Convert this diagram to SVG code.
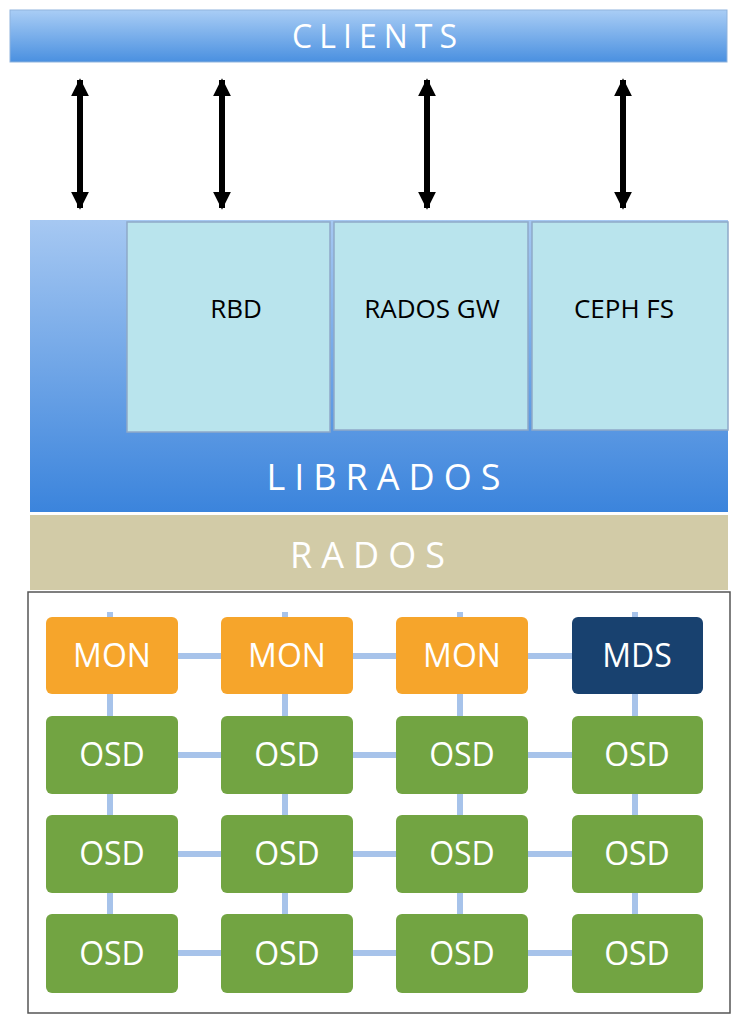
<svg xmlns="http://www.w3.org/2000/svg" width="752" height="1030" viewBox="0 0 752 1030">
<defs>
<linearGradient id="gc" x1="0" y1="0" x2="0" y2="1"><stop offset="0" stop-color="#a9cdf5"/><stop offset="1" stop-color="#4a90e0"/></linearGradient>
<linearGradient id="gl" x1="0" y1="0" x2="0" y2="1"><stop offset="0" stop-color="#a6c8f2"/><stop offset="1" stop-color="#3b84dc"/></linearGradient>
<marker id="ah" viewBox="0 0 10 10" refX="9" refY="5" markerWidth="3" markerHeight="3" orient="auto-start-reverse"><path d="M0,0 L10,5 L0,10 z" fill="#000"/></marker>
<style>
.t{font-family:"Open Sans","Liberation Sans",sans-serif;fill:#fff;text-anchor:middle}
.b{font-family:"Open Sans","Liberation Sans",sans-serif;fill:#000;text-anchor:middle;font-size:26px}
.box{fill:#b9e4ed;stroke:#8fa9c8;stroke-width:1.5}
.mon{fill:#f6a52b}.osd{fill:#72a442}.mds{fill:#18416f}
.n{font-size:32px}
.c line{stroke:#a7c3ea;stroke-width:6}
.c line.ar{stroke:#000;stroke-width:6;marker-start:url(#ah);marker-end:url(#ah)}
</style>
</defs>
<g id="clients"><rect x="10" y="10" width="717" height="52" fill="url(#gc)" stroke="#8fb3dd"/><text class="t" x="378" y="48" font-size="32" letter-spacing="7">CLIENTS</text></g>
<g id="librados"><rect x="30" y="220" width="698" height="292" fill="url(#gl)"/><text class="t" x="388" y="490" font-size="36" letter-spacing="9">LIBRADOS</text></g>
<g id="rbd"><rect class="box" x="127" y="222" width="203" height="210"/><text class="b" x="236" y="318">RBD</text></g>
<g id="radosgw"><rect class="box" x="334" y="222" width="194" height="208"/><text class="b" x="432" y="318">RADOS GW</text></g>
<g id="cephfs"><rect class="box" x="532" y="222" width="196" height="208"/><text class="b" x="624" y="318">CEPH FS</text></g>
<g id="rados"><rect x="30" y="515" width="698" height="75" fill="#d2cba7"/><text class="t" x="372" y="568" font-size="36" letter-spacing="9">RADOS</text></g>
<g id="cluster"><rect x="28" y="592" width="702" height="421" fill="#fff" stroke="#555" stroke-width="1.5"/></g>
<g class="c" id="connectors">
<line class="ar" x1="80" y1="80" x2="80" y2="208"/>
<line class="ar" x1="222" y1="80" x2="222" y2="208"/>
<line class="ar" x1="427" y1="80" x2="427" y2="208"/>
<line class="ar" x1="623" y1="80" x2="623" y2="208"/>
<line x1="110" y1="612" x2="110" y2="960"/><line x1="285" y1="612" x2="285" y2="960"/><line x1="460" y1="612" x2="460" y2="960"/><line x1="635" y1="612" x2="635" y2="960"/>
<line x1="112" y1="656" x2="637" y2="656"/><line x1="112" y1="755" x2="637" y2="755"/><line x1="112" y1="854" x2="637" y2="854"/><line x1="112" y1="953" x2="637" y2="953"/>
</g>
<g id="mon1"><rect class="mon" x="46" y="617" width="132" height="77" rx="6"/><text class="t n" x="112" y="667">MON</text></g>
<g id="mon2"><rect class="mon" x="221" y="617" width="132" height="77" rx="6"/><text class="t n" x="287" y="667">MON</text></g>
<g id="mon3"><rect class="mon" x="396" y="617" width="132" height="77" rx="6"/><text class="t n" x="462" y="667">MON</text></g>
<g id="mds"><rect class="mds" x="572" y="617" width="131" height="77" rx="6"/><text class="t n" x="637" y="667">MDS</text></g>
<g id="osd11"><rect class="osd" x="46" y="716" width="132" height="78" rx="6"/><text class="t n" x="112" y="766">OSD</text></g>
<g id="osd12"><rect class="osd" x="221" y="716" width="132" height="78" rx="6"/><text class="t n" x="287" y="766">OSD</text></g>
<g id="osd13"><rect class="osd" x="396" y="716" width="132" height="78" rx="6"/><text class="t n" x="462" y="766">OSD</text></g>
<g id="osd14"><rect class="osd" x="572" y="716" width="131" height="78" rx="6"/><text class="t n" x="637" y="766">OSD</text></g>
<g id="osd21"><rect class="osd" x="46" y="815" width="132" height="78" rx="6"/><text class="t n" x="112" y="865">OSD</text></g>
<g id="osd22"><rect class="osd" x="221" y="815" width="132" height="78" rx="6"/><text class="t n" x="287" y="865">OSD</text></g>
<g id="osd23"><rect class="osd" x="396" y="815" width="132" height="78" rx="6"/><text class="t n" x="462" y="865">OSD</text></g>
<g id="osd24"><rect class="osd" x="572" y="815" width="131" height="78" rx="6"/><text class="t n" x="637" y="865">OSD</text></g>
<g id="osd31"><rect class="osd" x="46" y="914" width="132" height="79" rx="6"/><text class="t n" x="112" y="965">OSD</text></g>
<g id="osd32"><rect class="osd" x="221" y="914" width="132" height="79" rx="6"/><text class="t n" x="287" y="965">OSD</text></g>
<g id="osd33"><rect class="osd" x="396" y="914" width="132" height="79" rx="6"/><text class="t n" x="462" y="965">OSD</text></g>
<g id="osd34"><rect class="osd" x="572" y="914" width="131" height="79" rx="6"/><text class="t n" x="637" y="965">OSD</text></g>
</svg>
